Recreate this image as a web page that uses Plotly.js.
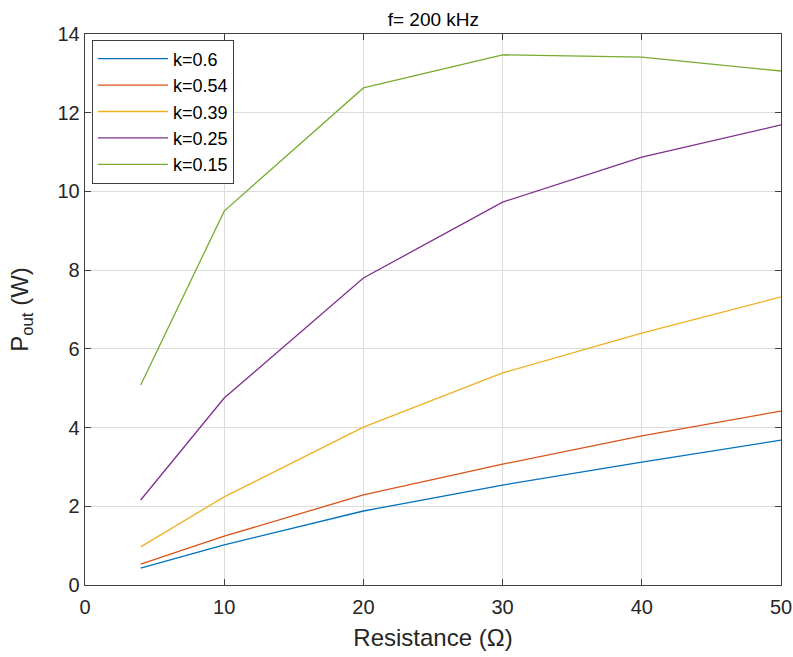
<!DOCTYPE html>
<html>
<head>
<meta charset="utf-8">
<script src="https://cdn.plot.ly/plotly-3.0.1.min.js"></script>
<style>html,body{margin:0;padding:0;background:#fff;}</style>
</head>
<body>
<div id="chart" style="width:793px;height:657px;"></div>
<script>
const resistance = [4, 10, 20, 30, 40, 50];
const seriesNames = ["k=0.6", "k=0.54", "k=0.39", "k=0.25", "k=0.15"];
const k060 = [0.43, 1.02, 1.88, 2.54, 3.12, 3.68];
const k054 = [0.53, 1.24, 2.29, 3.07, 3.79, 4.42];
const k039 = [0.97, 2.24, 4.01, 5.39, 6.40, 7.32];
const k025 = [2.16, 4.75, 7.80, 9.73, 10.87, 11.69];
const k015 = [5.08, 9.50, 12.63, 13.47, 13.41, 13.06];
const colors = ["#0072BD", "#D95319", "#EDB120", "#7E2F8E", "#77AC30"];
const xTicks = [0, 10, 20, 30, 40, 50];
const yTicks = [0, 2, 4, 6, 8, 10, 12, 14];

const allSeries = [k060, k054, k039, k025, k015];
const traces = allSeries.map((ys, i) => ({
  x: resistance, y: ys, type: "scatter", mode: "lines",
  name: seriesNames[i], line: {color: colors[i], width: 1.3}
}));

const fontFam = "Liberation Sans, Arial, sans-serif";
const layout = {
  width: 793, height: 657,
  margin: {l: 85, r: 12, t: 34, b: 72},
  paper_bgcolor: "#fff", plot_bgcolor: "#fff",
  font: {family: fontFam, color: "#262626"},
  title: {text: "f= 200 kHz", x: 0.5465, xanchor: "center", y: 0.971, yanchor: "middle", font: {size: 19, color: "#000"}},
  xaxis: {
    range: [0, 50], tickvals: xTicks, ticktext: xTicks.map(String),
    showgrid: true, gridcolor: "#dcdcdc", gridwidth: 1,
    zeroline: false, showline: true, linecolor: "#404040", linewidth: 1.3, mirror: "ticks",
    ticks: "inside", ticklen: 6, tickcolor: "#404040", ticklabelstandoff: 4,
    tickfont: {size: 20, color: "#262626"},
    title: {text: "Resistance (Ω)", font: {size: 24, color: "#262626"}, standoff: 12}
  },
  yaxis: {
    range: [0, 14], tickvals: yTicks, ticktext: yTicks.map(String),
    showgrid: true, gridcolor: "#dcdcdc", gridwidth: 1,
    zeroline: false, showline: true, linecolor: "#404040", linewidth: 1.3, mirror: "ticks",
    ticks: "inside", ticklen: 6, tickcolor: "#404040",
    tickfont: {size: 20, color: "#262626"},
    title: {text: "P<sub>out</sub> (W)", font: {size: 24, color: "#262626"}, standoff: 22}
  },
  legend: {
    x: 0.01, y: 0.99, xanchor: "left", yanchor: "top",
    bgcolor: "#fff", bordercolor: "#404040", borderwidth: 1,
    font: {size: 18, color: "#000"}, itemwidth: 70, tracegroupgap: 0
  },
  showlegend: true
};
Plotly.newPlot("chart", traces, layout, {displayModeBar: false, staticPlot: true});
</script>
</body>
</html>
